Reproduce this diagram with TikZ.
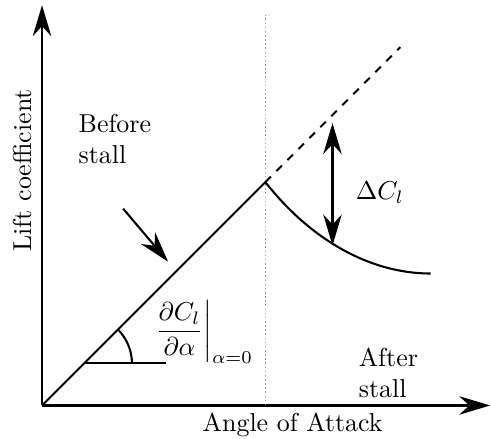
\documentclass[tikz,border=0pt]{standalone}
\usepackage{amsmath}
\usepackage{amssymb}
\usepackage{tikz}
\usetikzlibrary{arrows.meta}

\begin{document}
\begin{tikzpicture}[
tip/.style={-{Stealth[length=4.2mm,width=2.5mm]}, thick},
twotip/.style={{Stealth[length=4.2mm,width=2.5mm]}-{Stealth[length=4.2mm,width=2.5mm]}, thick},
curve/.style={thick},
txt/.style={inner sep=0pt, align=left}
]
\useasboundingbox (-0.57,-0.45) rectangle (6.09,5.50);
\coordinate (o) at (0,0);
\coordinate (xend) at (6.08,0);
\coordinate (yend) at (0,5.43);
\coordinate (peak) at (3.03,3.03);
\coordinate (ideal) at (4.86,4.86);
\coordinate (stall) at (5.27,1.79);
\coordinate (vtop) at (3.03,5.29);
\coordinate (vbot) at (3.03,0);
\coordinate (dtop) at (3.94,3.83);
\coordinate (dbot) at (3.94,2.17);
\coordinate (pin) at (1.10,2.67);
\coordinate (pout) at (1.71,1.95);
\coordinate (a0) at (0.57,0.57);
\coordinate (a1) at (1.68,0.57);
% axes
\draw[tip] (o)--(xend);
\draw[tip] (o)--(yend);
\node[rotate=90] (ylab) at (-0.27,3.19) {Lift coefficient};
\node (xlab) at (3.40,-0.26) {Angle of Attack};
% stall line
\draw[gray!80, densely dotted, semithick] (vbot)--(vtop);
% lift curve
\draw[curve] (o)--(peak);
\draw[curve, dashed] (peak)--(ideal);
\draw[curve] (peak) .. controls (3.6,2.3) and (4.4,1.79) .. (stall);
\draw[twotip] (dtop)--(dbot);
\node[txt, anchor=west] (dcl) at (4.25,2.89) {$\Delta C_l$};
% slope
\draw[thick] (a0)--(a1);
\draw[thick] ([xshift=0.65cm]a0) arc[start angle=0, end angle=45, radius=0.65cm];
\node[txt, anchor=base west] (slope) at (1.49,0.92) {$\displaystyle\left.\frac{\partial C_l}{\partial\alpha}\right|_{\alpha=0}$};
\draw[tip] (pin)--(pout);
\node[txt, anchor=west] (before) at (0.49,3.62) {Before\\stall};
\node[txt, anchor=west] (after) at (4.29,0.44) {After\\stall};
\end{tikzpicture}
\end{document}
